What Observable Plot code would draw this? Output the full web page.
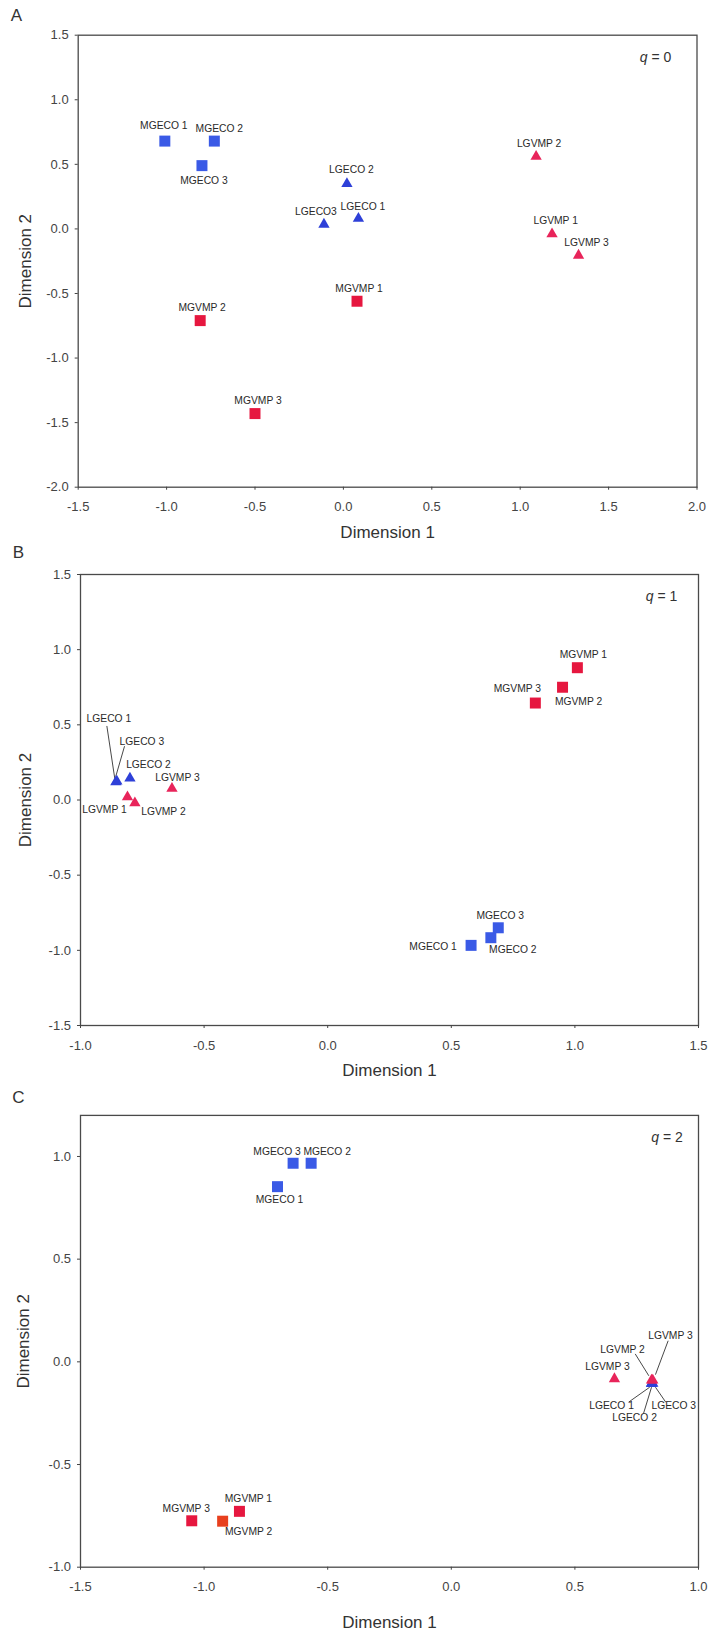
<!DOCTYPE html>
<html>
<head>
<meta charset="utf-8">
<script src="https://cdn.jsdelivr.net/npm/d3@7"></script>
<script src="https://cdn.jsdelivr.net/npm/@observablehq/plot@0.6"></script>
<style>
  body { margin: 0; background: #fff; }
  #page { position: relative; width: 711px; height: 1631px; font-family: "Liberation Sans", Arial, sans-serif; }
  .panel { position: absolute; left: 0; }
  .panel svg { overflow: visible; }
</style>
</head>
<body>
<div id="page"></div>
<script>
// ---- Data: ordination coordinates of the twelve samples for each diversity order q ----

// A: q = 0
const namesA = ["MGECO 1", "MGECO 2", "MGECO 3", "LGECO 1", "LGECO 2", "LGECO3",
                "MGVMP 1", "MGVMP 2", "MGVMP 3", "LGVMP 1", "LGVMP 2", "LGVMP 3"];
const dim1A = [-1.01, -0.73, -0.80, 0.085, 0.02, -0.11, 0.077, -0.81, -0.50, 1.18, 1.09, 1.33];
const dim2A = [0.68, 0.68, 0.49, 0.08, 0.35, 0.035, -0.56, -0.71, -1.43, -0.04, 0.56, -0.205];

// B: q = 1
const namesB = ["LGECO 1", "LGECO 2", "LGECO 3", "LGVMP 1", "LGVMP 2", "LGVMP 3",
                "MGECO 1", "MGECO 2", "MGECO 3", "MGVMP 1", "MGVMP 2", "MGVMP 3"];
const dim1B = [-0.857, -0.80, -0.853, -0.81, -0.78, -0.63, 0.58, 0.66, 0.69, 1.01, 0.95, 0.84];
const dim2B = [0.12, 0.145, 0.125, 0.02, -0.02, 0.077, -0.967, -0.916, -0.85, 0.88, 0.75, 0.645];

// C: q = 2
const namesC = ["MGECO 1", "MGECO 2", "MGECO 3", "MGVMP 1", "MGVMP 2", "MGVMP 3",
                "LGECO 1", "LGECO 2", "LGECO 3", "LGVMP 3", "LGVMP 2", "LGVMP 3"];
const dim1C = [-0.703, -0.567, -0.64, -0.857, -0.925, -1.05, 0.81, 0.81, 0.815, 0.66, 0.81, 0.815];
const dim2C = [0.853, 0.967, 0.967, -0.728, -0.776, -0.774, -0.105, -0.105, -0.105, -0.083, -0.09, -0.09];

// Axis ticks
const ticksXA = [-1.5, -1.0, -0.5, 0.0, 0.5, 1.0, 1.5, 2.0];
const ticksYA = [-2.0, -1.5, -1.0, -0.5, 0.0, 0.5, 1.0, 1.5];
const ticksXB = [-1.0, -0.5, 0.0, 0.5, 1.0, 1.5];
const ticksYB = [-1.5, -1.0, -0.5, 0.0, 0.5, 1.0, 1.5];
const ticksXC = [-1.5, -1.0, -0.5, 0.0, 0.5, 1.0];
const ticksYC = [-1.0, -0.5, 0.0, 0.5, 1.0];

// ---- Styling ----
const FONT = "'Liberation Sans', Arial, Helvetica, sans-serif";
const palette = {
  squareECO: "#3a5ae6",
  squareVMP: "#e6173f",
  triECO: "#2e40d8",
  triVMP: "#e8245a"
};

// Label placement (pixel offsets from each marker, in array order) and leader lines
const labelOffsetsA = [[-1, -15], [5, -12], [2, 15], [4.5, -12], [4.5, -14.5], [-8, -13],
                       [2, -13], [2, -13], [3, -13], [3.6, -13], [3, -13], [8, -13]];
const labelOffsetsB = [[-7, -63], [18.5, -13], [25, -40], [-23, 12.6], [28.5, 9], [5.5, -11],
                       [-38, 1], [22, 12], [2, -12], [6, -13], [16, 14], [-18, -14]];
const leadersB = {0: [[-9, -56], [-1, -3]], 2: [[7.7, -35], [-1, -5]]};
const labelOffsetsC = [[2, 13], [16, -12], [-16, -12], [9, -13], [26, 11], [-5.5, -12.5],
                       [-40, 22.6], [-17, 34], [21, 22.6], [-7, -12.5], [-29, -31], [17.7, -45]];
const leadersC = {
  6: [[-23, 18.8], [-1.8, 3.8]],
  7: [[-8, 30], [0, 3.8]],
  8: [[13, 18.8], [2.7, 3.8]],
  10: [[-16.3, -26.4], [-2.7, -4.5]],
  11: [[15.4, -39.6], [2.7, -5.7]]
};

function markerColor(name, tri) {
  const eco = name.includes("ECO");
  if (tri) return eco ? palette.triECO : palette.triVMP;
  return eco ? palette.squareECO : palette.squareVMP;
}

function drawPanel(cfg) {
  const W = 711;
  const [ml, mr, mt, mb] = cfg.margins;
  const kx = (W - ml - mr) / (cfg.xDomain[1] - cfg.xDomain[0]);
  const ky = (cfg.height - mt - mb) / (cfg.yDomain[1] - cfg.yDomain[0]);

  const rows = cfg.names.map((name, i) => {
    const tri = name.startsWith("L");
    const [ox, oy] = cfg.offsets[i];
    return {
      name,
      x: cfg.dim1[i],
      y: cfg.dim2[i],
      tri,
      color: (cfg.colorOverride && cfg.colorOverride[i]) || markerColor(name, tri),
      lx: cfg.dim1[i] + ox / kx,
      ly: cfg.dim2[i] - oy / ky
    };
  });
  const leaders = Object.entries(cfg.leaders || {}).map(([i, [[ax, ay], [bx, by]]]) => {
    const r = rows[+i];
    return {x1: r.x + ax / kx, y1: r.y - ay / ky, x2: r.x + bx / kx, y2: r.y - by / ky};
  });

  const fmt = d => d.toFixed(1);
  const chart = Plot.plot({
    width: W,
    height: cfg.height,
    marginLeft: ml,
    marginRight: mr,
    marginTop: mt,
    marginBottom: mb,
    style: {fontFamily: FONT, background: "transparent", overflow: "visible"},
    x: {domain: cfg.xDomain, label: null},
    y: {domain: cfg.yDomain, label: null},
    color: {type: "identity"},
    marks: [
      Plot.frame({stroke: "#4a4a4a", strokeWidth: 1.3}),
      Plot.axisX(cfg.ticksX, {tickFormat: fmt, tickSize: 3, tickPadding: 12, fontSize: 13, color: "#444", label: null}),
      Plot.axisY(cfg.ticksY, {tickFormat: fmt, tickSize: 3, tickPadding: 6.5, fontSize: 13, color: "#444", label: null}),
      Plot.link(leaders, {x1: "x1", y1: "y1", x2: "x2", y2: "y2", stroke: "#333", strokeWidth: 0.9}),
      Plot.dot(rows.filter(d => !d.tri), {x: "x", y: "y", symbol: "square", r: 6.2, fill: "color", stroke: "none"}),
      Plot.dot(rows.filter(d => d.tri), {x: "x", y: "y", symbol: "triangle", r: 4.2, fill: "color", stroke: "none"}),
      Plot.text(rows, {x: "lx", y: "ly", text: "name", fontSize: 10.3, fill: "#2a2a2a", textAnchor: "middle", lineAnchor: "middle"}),
      Plot.text(["Dimension 1"], {frameAnchor: "bottom", dy: cfg.titleGap, fontSize: 17, fill: "#333", textAnchor: "middle", lineAnchor: "middle"}),
      Plot.text(["Dimension 2"], {frameAnchor: "left", dx: cfg.yTitleDx, rotate: -90, fontSize: 17, fill: "#333", textAnchor: "middle", lineAnchor: "middle"}),
      Plot.text([cfg.letter], {frameAnchor: "top-left", dx: cfg.letterPos[0], dy: cfg.letterPos[1], fontSize: 17, fill: "#333", textAnchor: "middle", lineAnchor: "middle"}),
      Plot.text(["q"], {frameAnchor: "top-right", dx: cfg.qPos[0], dy: cfg.qPos[1], fontSize: 14, fontStyle: "italic", fill: "#333", textAnchor: "end", lineAnchor: "middle"}),
      Plot.text([cfg.qValue], {frameAnchor: "top-right", dx: cfg.qPos[0] + 4, dy: cfg.qPos[1], fontSize: 14, fill: "#333", textAnchor: "start", lineAnchor: "middle"})
    ]
  });

  const holder = document.createElement("div");
  holder.className = "panel";
  holder.style.top = cfg.top + "px";
  holder.appendChild(chart);
  document.getElementById("page").appendChild(holder);
}

drawPanel({
  letter: "A", qValue: "= 0",
  names: namesA, dim1: dim1A, dim2: dim2A,
  xDomain: [-1.5, 2.0], yDomain: [-2.0, 1.5], ticksX: ticksXA, ticksY: ticksYA,
  top: 0, height: 540, margins: [77.7, 14.5, 34.7, 53.3],
  offsets: labelOffsetsA,
  titleGap: 45, yTitleDx: -52.7, letterPos: [-61.7, -19.2], qPos: [-49.5, 22.3]
});

drawPanel({
  letter: "B", qValue: "= 1",
  names: namesB, dim1: dim1B, dim2: dim2B,
  xDomain: [-1.0, 1.5], yDomain: [-1.5, 1.5], ticksX: ticksXB, ticksY: ticksYB,
  top: 540, height: 540, margins: [80, 13, 34, 55],
  offsets: labelOffsetsB, leaders: leadersB,
  titleGap: 45, yTitleDx: -55, letterPos: [-62, -22.3], qPos: [-45, 22]
});

drawPanel({
  letter: "C", qValue: "= 2",
  names: namesC, dim1: dim1C, dim2: dim2C,
  xDomain: [-1.5, 1.0], yDomain: [-1.0, 1.2], ticksX: ticksXC, ticksY: ticksYC,
  top: 1080, height: 551, margins: [80, 13, 34.9, 64.3],
  offsets: labelOffsetsC, leaders: leadersC,
  colorOverride: {4: "#e8401e"},
  titleGap: 55, yTitleDx: -57.3, letterPos: [-62, -18.2], qPos: [-39.5, 22]
});
</script>
</body>
</html>
